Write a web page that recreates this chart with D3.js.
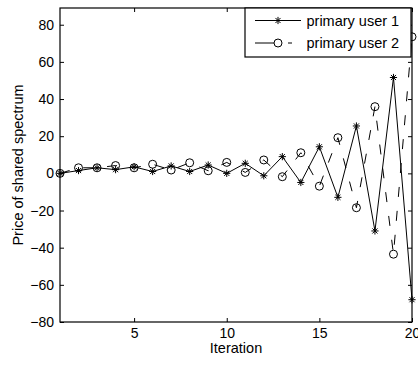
<!DOCTYPE html>
<html>
<head>
<meta charset="utf-8">
<script src="https://cdn.jsdelivr.net/npm/d3@7"></script>
<style>
  html, body { margin: 0; padding: 0; background: #fff; }
  svg { display: block; font-family: "Liberation Sans", Arial, sans-serif; }
</style>
</head>
<body>
<svg id="chart" width="418" height="365"></svg>
<script>
// Iteration index and price of shared spectrum for the two primary users
const iterations = [1, 2, 3, 4, 5, 6, 7, 8, 9, 10, 11, 12, 13, 14, 15, 16, 17, 18, 19, 20];
const user1Price = [0, 1.5, 3, 2, 3.5, 1, 4, 1, 4.5, 0, 5.4, -1.3, 9, -4.9, 14.3, -12.9, 25.5, -31, 51.6, -68];
const user2Price = [0, 3, 3, 4.2, 3, 4.9, 1.8, 5.7, 1.4, 5.9, 0.5, 7.2, -1.8, 11.1, -6.9, 19.2, -18.5, 35.9, -43.5, 73.5];
const seriesNames = ["primary user 1", "primary user 2"];
const xTicks = [5, 10, 15, 20];
const yTicks = [-80, -60, -40, -20, 0, 20, 40, 60, 80];

const svg = d3.select("#chart");
const plot = { left: 60, right: 412, top: 8, bottom: 322 };

const x = d3.scaleLinear().domain([1, 20]).range([plot.left, plot.right]);
const y = d3.scaleLinear().domain([-80, 89]).range([plot.bottom, plot.top]);

const tickLen = 4;
const tickFont = "14px";

// Axes: bottom/left labelled, top/right mirrored, all ticks pointing inward
svg.append("g")
  .attr("transform", `translate(0,${plot.bottom})`)
  .call(d3.axisBottom(x).tickValues(xTicks).tickSizeInner(-tickLen).tickSizeOuter(0).tickPadding(6))
  .call(g => g.select(".domain").remove())
  .call(g => g.selectAll("text").attr("font-size", tickFont).attr("fill", "#000").attr("dy", "0.71em"));

svg.append("g")
  .attr("transform", `translate(0,${plot.top})`)
  .call(d3.axisTop(x).tickValues(xTicks).tickSizeInner(-tickLen).tickSizeOuter(0).tickFormat(""))
  .call(g => g.select(".domain").remove());

svg.append("g")
  .attr("transform", `translate(${plot.left},0)`)
  .call(d3.axisLeft(y).tickValues(yTicks).tickSizeInner(-tickLen).tickSizeOuter(0).tickPadding(6))
  .call(g => g.select(".domain").remove())
  .call(g => g.selectAll("text").attr("font-size", tickFont).attr("fill", "#000"));

svg.append("g")
  .attr("transform", `translate(${plot.right},0)`)
  .call(d3.axisRight(y).tickValues(yTicks).tickSizeInner(-tickLen).tickSizeOuter(0).tickFormat(""))
  .call(g => g.select(".domain").remove());

svg.selectAll(".tick line").attr("stroke", "#000");

// Box around the plotting area
svg.append("rect")
  .attr("x", plot.left).attr("y", plot.top)
  .attr("width", plot.right - plot.left).attr("height", plot.bottom - plot.top)
  .attr("fill", "none").attr("stroke", "#000").attr("stroke-width", 1.2);

// Axis titles
svg.append("text")
  .attr("x", (plot.left + plot.right) / 2).attr("y", 353)
  .attr("text-anchor", "middle").attr("font-size", "14.5px").text("Iteration");

svg.append("text")
  .attr("transform", `translate(23,${(plot.top + plot.bottom) / 2}) rotate(-90)`)
  .attr("text-anchor", "middle").attr("font-size", "14.5px").text("Price of shared spectrum");

// Marker shapes
const starPath = (r) => {
  const d = r * Math.SQRT1_2;
  return `M${-r},0L${r},0M0,${-r}L0,${r}M${-d},${-d}L${d},${d}M${-d},${d}L${d},${-d}`;
};
const dashPattern = "10,14";

const line = d3.line().x((d, i) => x(iterations[i])).y(d => y(d));

// primary user 1: solid line with asterisks
svg.append("path")
  .datum(user1Price)
  .attr("d", line)
  .attr("fill", "none").attr("stroke", "#000").attr("stroke-width", 1);

svg.append("g").selectAll("path")
  .data(user1Price)
  .join("path")
  .attr("transform", (d, i) => `translate(${x(iterations[i])},${y(d)})`)
  .attr("d", starPath(3.6))
  .attr("stroke", "#000").attr("stroke-width", 1).attr("fill", "none");

// primary user 2: dashed line with open circles
svg.append("path")
  .datum(user2Price)
  .attr("d", line)
  .attr("fill", "none").attr("stroke", "#000").attr("stroke-width", 1)
  .attr("stroke-dasharray", dashPattern);

svg.append("g").selectAll("circle")
  .data(user2Price)
  .join("circle")
  .attr("cx", (d, i) => x(iterations[i]))
  .attr("cy", d => y(d))
  .attr("r", 4)
  .attr("fill", "none").attr("stroke", "#000").attr("stroke-width", 1);

// Legend in the upper right corner
const legend = svg.append("g");
legend.append("rect")
  .attr("x", 245).attr("y", plot.top)
  .attr("width", 166).attr("height", 49)
  .attr("fill", "#fff").attr("stroke", "#000").attr("stroke-width", 1.2);

const rows = [20.5, 43];
seriesNames.forEach((name, i) => {
  const yy = rows[i];
  legend.append("line")
    .attr("x1", 255).attr("x2", 301).attr("y1", yy).attr("y2", yy)
    .attr("stroke", "#000").attr("stroke-width", 1)
    .attr("stroke-dasharray", i === 1 ? "21,12,4,20" : null);
  if (i === 0) {
    legend.append("path")
      .attr("transform", `translate(278,${yy})`)
      .attr("d", starPath(3.6))
      .attr("stroke", "#000").attr("fill", "none");
  } else {
    legend.append("circle")
      .attr("cx", 278).attr("cy", yy).attr("r", 4)
      .attr("fill", "#fff").attr("stroke", "#000");
  }
  legend.append("text")
    .attr("x", 306.5).attr("y", yy).attr("dy", "0.35em")
    .attr("font-size", "14.5px").text(name);
});
</script>
</body>
</html>
